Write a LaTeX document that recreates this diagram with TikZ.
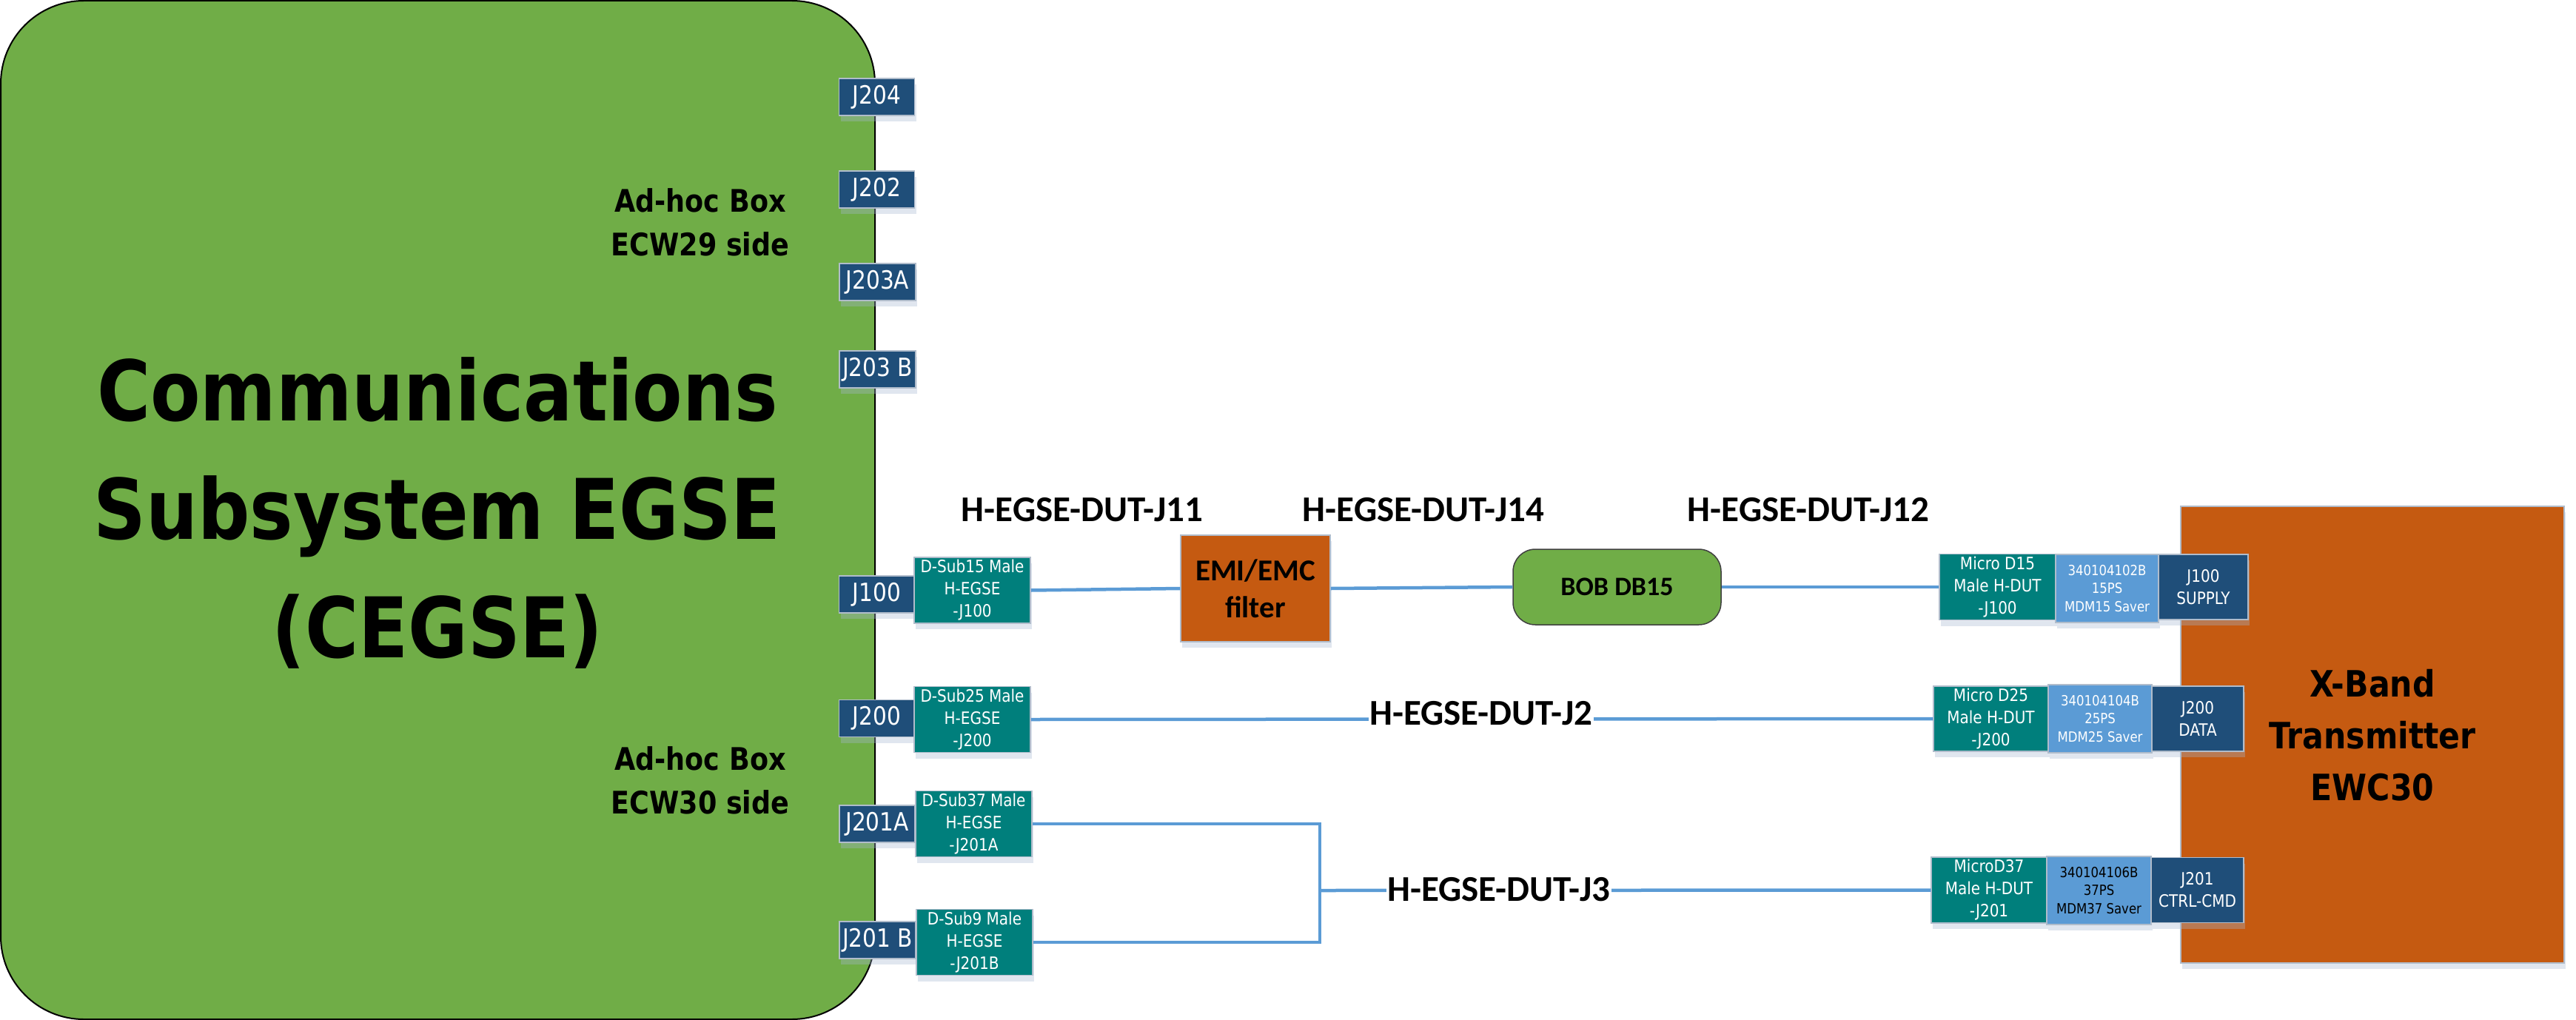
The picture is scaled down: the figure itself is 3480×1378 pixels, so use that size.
\documentclass[tikz,border=0pt]{standalone}
\usepackage{fontspec}
\usetikzlibrary{shadows}
\newfontfamily\tahfont[FakeStretch=0.87]{DejaVu Sans}
\newfontfamily\calfont{Carlito}
\definecolor{cgreen}{HTML}{70AD47}
\definecolor{corange}{HTML}{C55A11}
\definecolor{dblue}{HTML}{1F4E79}
\definecolor{cteal}{HTML}{007F7C}
\definecolor{lblue}{HTML}{5B9BD5}
\definecolor{bordc}{HTML}{B0BCCB}
\definecolor{shadc}{HTML}{A5B8D0}
\tikzset{
  shd/.style={drop shadow={shadow xshift=2pt, shadow yshift=-8pt, fill=shadc, opacity=0.35}},
  boxbase/.style={draw=bordc, line width=1.5pt, inner sep=0pt, align=center, shd},
  port/.style={boxbase, fill=dblue, text=white, font=\tahfont\fontsize{34}{40}\selectfont, minimum width=102pt, minimum height=50pt},
  dsub/.style={boxbase, fill=cteal, text=white, font=\tahfont\fontsize{23}{30}\selectfont, minimum width=157pt, minimum height=89pt},
  saver/.style={boxbase, fill=lblue, font=\tahfont\fontsize{19}{24.5}\selectfont, minimum height=92pt},
  rport/.style={boxbase, fill=dblue, text=white, font=\tahfont\fontsize{23}{30}\selectfont, minimum height=88pt},
  wire/.style={draw=lblue, line width=4.5pt},
  clabel/.style={font=\calfont\bfseries\fontsize{49}{55}\selectfont, inner sep=1pt},
  side/.style={font=\tahfont\bfseries\fontsize{42}{59}\selectfont, align=center},
}
\begin{document}
\begin{tikzpicture}[x=1pt,y=-1pt]
\useasboundingbox (0,0) rectangle (3480,1378);
% main CEGSE box
\node[draw=black, line width=2pt, fill=cgreen, rounded corners=112pt, minimum width=1181pt, minimum height=1376pt, inner sep=0pt] (cegse) at (591.5,689) {};
\node[font=\tahfont\bfseries\fontsize{113}{160}\selectfont, align=center] (title) at (591,693) {Communications\\Subsystem EGSE\\(CEGSE)};
\node[side] (side29) at (946,300) {Ad-hoc Box\\ECW29 side};
\node[side] (side30) at (946,1054) {Ad-hoc Box\\ECW30 side};
% X-band box
\node[draw=bordc, line width=1.5pt, fill=corange, shd, minimum width=518pt, minimum height=617pt, inner sep=0pt] (xband) at (3205,992.5) {};
\node[font=\tahfont\bfseries\fontsize{49}{70}\selectfont, align=center] (xtitle) at (3205,993) {X-Band\\Transmitter\\EWC30};
% ports on CEGSE
\node[port] (j204) at (1184.5,131) {J204};
\node[port] (j202) at (1184.5,256) {J202};
\node[port, minimum width=103pt] (j203a) at (1185.5,381) {J203A};
\node[port, minimum width=103pt] (j203b) at (1185.5,499) {J203 B};
\node[port] (j100) at (1184.5,803) {J100};
\node[port] (j200) at (1184.5,970.5) {J200};
\node[port] (j201a) at (1185,1113) {J201A};
\node[port, minimum width=103pt] (j201b) at (1185.5,1270) {J201 B};
% D-Sub connectors
\node[dsub] (dsub15) at (1313.5,797.5) {D-Sub15 Male\\H-EGSE\\-J100};
\node[dsub] (dsub25) at (1313.5,972) {D-Sub25 Male\\H-EGSE\\-J200};
\node[dsub] (dsub37) at (1315.5,1113) {D-Sub37 Male\\H-EGSE\\-J201A};
\node[dsub] (dsub9) at (1316.5,1273) {D-Sub9 Male\\H-EGSE\\-J201B};
% EMI filter and BOB
\node[boxbase, fill=corange, font=\calfont\bfseries\fontsize{41}{50}\selectfont, minimum width=202pt, minimum height=144pt] (emi) at (1696,795) {EMI/EMC\\filter};
\node[draw=black!75, line width=1.5pt, fill=cgreen, rounded corners=30pt, font=\calfont\bfseries\fontsize{36}{42}\selectfont, minimum width=281pt, minimum height=102pt, inner sep=0pt] (bob) at (2184.5,793) {BOB DB15};
% DUT side connectors
\node[dsub] (micro15) at (2698.5,793) {Micro D15\\Male H-DUT\\-J100};
\node[saver, text=white, minimum width=139pt] (saver15) at (2846.5,795) {340104102B\\15PS\\MDM15 Saver};
\node[rport, minimum width=121pt] (jd100) at (2976.5,793) {J100\\SUPPLY};
\node[dsub, minimum width=155pt, minimum height=88pt] (micro25) at (2689.5,971) {Micro D25\\Male H-DUT\\-J200};
\node[saver, text=white, minimum width=140pt] (saver25) at (2837,971) {340104104B\\25PS\\MDM25 Saver};
\node[rport, minimum width=124pt] (jd200) at (2969,971) {J200\\DATA};
\node[dsub, minimum width=156pt] (micro37) at (2687,1202.5) {MicroD37\\Male H-DUT\\-J201};
\node[saver, text=black, minimum width=141pt] (saver37) at (2835.5,1203) {340104106B\\37PS\\MDM37 Saver};
\node[rport, minimum width=125pt] (jd201) at (2968.5,1202.5) {J201\\CTRL-CMD};
% wires
\coordinate (jn) at (1783,1203);
\draw[wire] (dsub15.east) -- (emi.west);
\draw[wire] (emi.east) -- (bob.west);
\draw[wire] (bob.east) -- (micro15.west);
\draw[wire] (dsub25.east) -- (micro25.west);
\draw[wire] (dsub37.east) -| (jn);
\draw[wire] (jn) |- (dsub9.east);
\draw[wire] (jn) -- (micro37.west);
% cable labels
\node[clabel] (l11) at (1462,689) {H-EGSE-DUT-J11};
\node[clabel] (l14) at (1923,689) {H-EGSE-DUT-J14};
\node[clabel] (l12) at (2443,689) {H-EGSE-DUT-J12};
\node[clabel, fill=white] (l2) at (2001,964) {H-EGSE-DUT-J2};
\node[clabel, fill=white] (l3) at (2025,1202) {H-EGSE-DUT-J3};
\end{tikzpicture}
\end{document}
